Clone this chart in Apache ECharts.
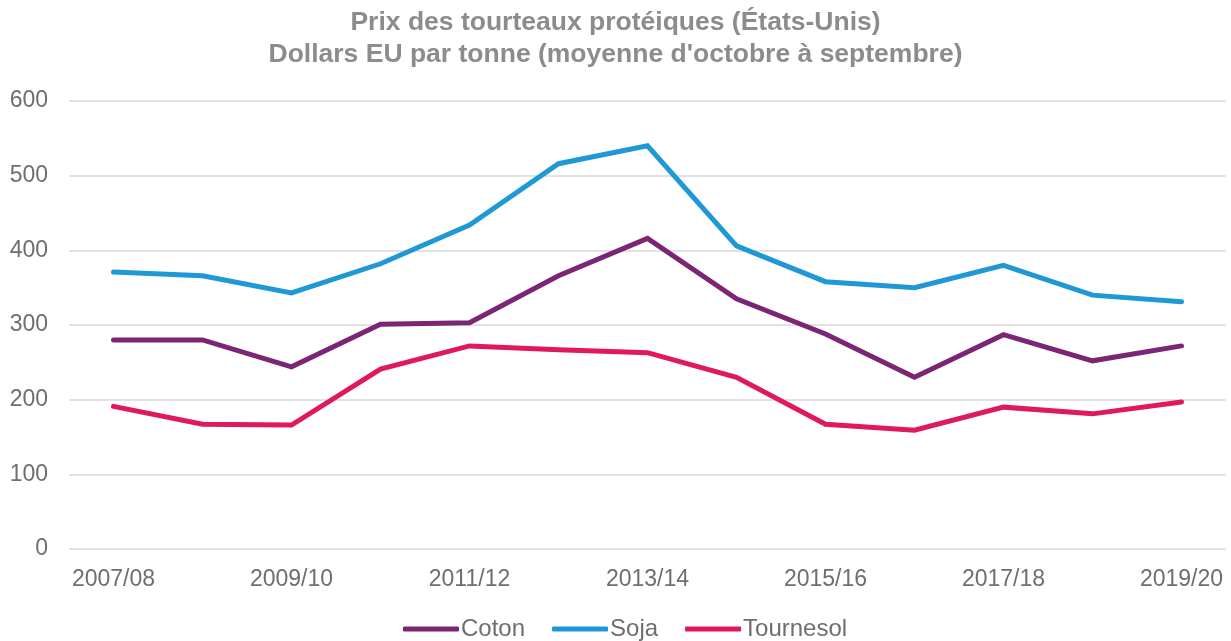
<!DOCTYPE html>
<html>
<head>
<meta charset="utf-8">
<script src="https://cdn.jsdelivr.net/npm/echarts@6/dist/echarts.min.js"></script>
<style>
  html, body { margin: 0; padding: 0; background: #fff; }
  #chart { width: 1231px; height: 641px; }
</style>
</head>
<body>
<div id="chart"></div>
<script>
// campagnes (octobre à septembre)
const campagnes = ['2007/08', '2008/09', '2009/10', '2010/11', '2011/12', '2012/13', '2013/14',
  '2014/15', '2015/16', '2016/17', '2017/18', '2018/19', '2019/20'];

// prix en dollars EU par tonne
const coton = [280, 280, 244, 301, 303, 366, 416, 335, 288, 230, 287, 252, 272];
const soja = [371, 366, 343, 382, 434, 516, 540, 406, 358, 350, 380, 340, 331];
const tournesol = [191, 167, 166, 241, 272, 267, 263, 230, 167, 159, 190, 181, 197];

const titre = "Prix des tourteaux protéiques (États-Unis)\nDollars EU par tonne (moyenne d'octobre à septembre)";

const chart = echarts.init(document.getElementById('chart'));

const font = 'Liberation Sans, Arial, sans-serif';

function serie(name, data, color) {
    return {
        name: name,
        type: 'line',
        data: data,
        symbol: 'none',
        lineStyle: { width: 5, color: color, cap: 'round', join: 'miter' },
        itemStyle: { color: color }
    };
}

chart.setOption({
    animation: false,
    title: {
        text: titre,
        left: 'center',
        top: 2,
        padding: [5, 0, 5, 26],
        textStyle: {
            fontFamily: font,
            fontSize: 26.5,
            fontWeight: 'bold',
            color: '#8c8c8c',
            lineHeight: 32
        }
    },
    legend: {
        bottom: -5,
        left: 398,
        itemWidth: 56,
        itemHeight: 5,
        itemGap: 27,
        icon: 'roundRect',
        textStyle: { fontFamily: font, fontSize: 24, color: '#6e6e6e', padding: [0, 0, 0, -3] },
        data: ['Coton', 'Soja', 'Tournesol']
    },
    grid: { left: 69, right: 5, top: 101, bottom: 92 },
    xAxis: {
        type: 'category',
        data: campagnes,
        boundaryGap: true,
        axisLine: { show: false },
        axisTick: { show: false },
        axisLabel: {
            interval: 1,
            margin: 19,
            fontFamily: font,
            fontSize: 23,
            color: '#6e6e6e'
        }
    },
    yAxis: {
        type: 'value',
        min: 0,
        max: 600,
        interval: 100,
        axisLine: { show: false },
        axisTick: { show: false },
        axisLabel: {
            margin: 21,
            fontFamily: font,
            fontSize: 23,
            color: '#6e6e6e'
        },
        splitLine: { lineStyle: { color: '#d9d9d9', width: 1.5 } }
    },
    series: [
        serie('Coton', coton, '#7b2574'),
        serie('Soja', soja, '#1f98d6'),
        serie('Tournesol', tournesol, '#e0185c')
    ]
});
</script>
</body>
</html>
